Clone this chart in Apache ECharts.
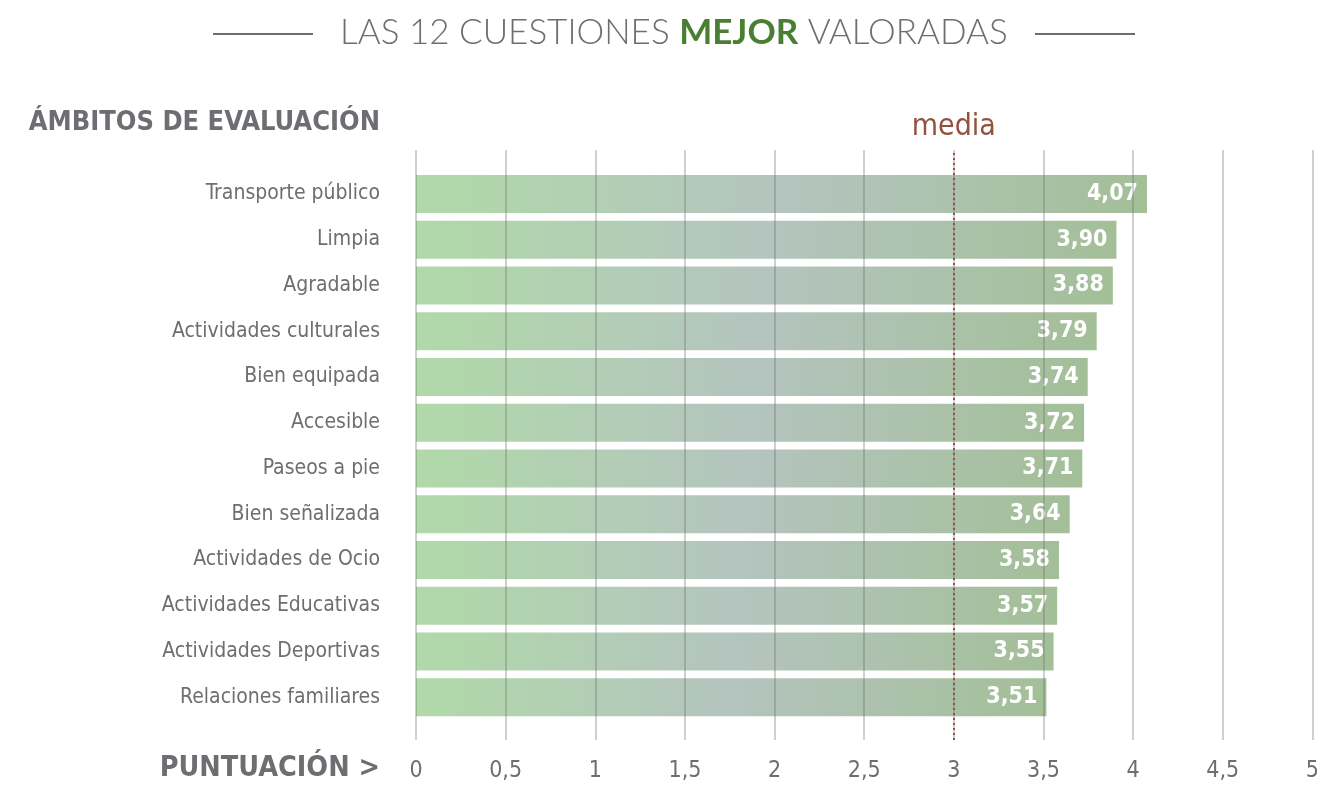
<!DOCTYPE html>
<html>
<head>
<meta charset="utf-8">
<script src="https://cdn.jsdelivr.net/npm/echarts@6/dist/echarts.min.js"></script>
<style>html,body{margin:0;padding:0;background:#fff;}#c{width:1322px;height:785px;}</style>
</head>
<body>
<div id="c"></div>
<script>
const categories = ['Transporte público','Limpia','Agradable','Actividades culturales','Bien equipada','Accesible','Paseos a pie','Bien señalizada','Actividades de Ocio','Actividades Educativas','Actividades Deportivas','Relaciones familiares'];
const values = [4.07, 3.90, 3.88, 3.79, 3.74, 3.72, 3.71, 3.64, 3.58, 3.57, 3.55, 3.51];
const mediaValue = 3;
const axisMin = 0, axisMax = 5, axisStep = 0.5;
const titleParts = ['LAS 12 CUESTIONES ', 'MEJOR', ' VALORADAS'];

const FONT = '"DejaVu Sans Condensed", "Roboto", sans-serif';
const GRAY = '#6d6e71';
const fmt = v => String(v).replace('.', ',');

const chart = echarts.init(document.getElementById('c'), null, {renderer: 'canvas'});
chart.setOption({
  backgroundColor: '#fff',
  textStyle: {fontFamily: FONT},
  grid: [
    {left: 416, right: 8, top: 150, bottom: 45},
    {left: 416, right: 8, top: 171, height: 549}
  ],
  xAxis: [
    {gridIndex: 0, type: 'value', min: axisMin, max: axisMax, interval: axisStep, z: 5,
     axisLine: {show: false}, axisTick: {show: false},
     splitLine: {show: true, lineStyle: {color: 'rgba(110,110,110,0.33)', width: 2}},
     axisLabel: {formatter: fmt, fontSize: 23, color: GRAY, margin: 20, fontFamily: FONT}},
    {gridIndex: 1, type: 'value', min: axisMin, max: axisMax, show: false}
  ],
  yAxis: [
    {gridIndex: 0, type: 'value', min: 0, max: 1, show: false},
    {gridIndex: 1, type: 'category', inverse: true, data: categories,
     axisLine: {show: false}, axisTick: {show: false}, splitLine: {show: false},
     axisLabel: {fontSize: 21, color: GRAY, margin: 36, fontFamily: FONT, padding: [6, 0, 0, 0]}}
  ],
  series: [
    {type: 'bar', xAxisIndex: 1, yAxisIndex: 1, data: values, barWidth: 38, z: 2,
     itemStyle: {color: new echarts.graphic.LinearGradient(0, 0, 1, 0, [
       {offset: 0, color: '#b0d9a8'},
       {offset: 0.5, color: '#b4c4bf'},
       {offset: 1, color: '#a3bf98'}
     ])},
     label: {show: true, position: 'insideRight', distance: 9, color: '#fff', fontSize: 23,
       fontWeight: 'bold', fontFamily: FONT, formatter: p => p.value.toFixed(2).replace('.', ',')}},
    {type: 'line', xAxisIndex: 0, yAxisIndex: 0, data: [], silent: true,
     markLine: {silent: true, symbol: 'none',
       data: [{xAxis: mediaValue}],
       lineStyle: {type: [2, 3], color: '#93513f', width: 2},
       label: {show: true, position: 'end', formatter: 'media', color: '#93513f', fontSize: 30, distance: 8, fontFamily: FONT}}}
  ],
  graphic: [
    {type: 'line', shape: {x1: 213, y1: 34, x2: 313, y2: 34}, style: {stroke: GRAY, lineWidth: 2}},
    {type: 'line', shape: {x1: 1035, y1: 34, x2: 1135, y2: 34}, style: {stroke: GRAY, lineWidth: 2}},
    {type: 'text', left: 340, top: 15, style: {
      text: '{a|' + titleParts[0] + '}{b|' + titleParts[1] + '}{a|' + titleParts[2] + '}',
      rich: {
        a: {fontSize: 35, fill: GRAY, fontFamily: 'Lato', fontWeight: 300},
        b: {fontSize: 35, fill: '#4a7f33', fontFamily: 'Lato', fontWeight: 'bold'}
      }}},
    {type: 'text', right: 1322 - 380, top: 109, style: {text: 'ÁMBITOS DE EVALUACIÓN', fontSize: 27, fontWeight: 'bold', fill: GRAY, fontFamily: FONT}},
    {type: 'text', right: 1322 - 380, top: 754, style: {text: 'PUNTUACIÓN >', fontSize: 28.5, fontWeight: 'bold', fill: GRAY, fontFamily: FONT}}
  ]
});
</script>
</body>
</html>
